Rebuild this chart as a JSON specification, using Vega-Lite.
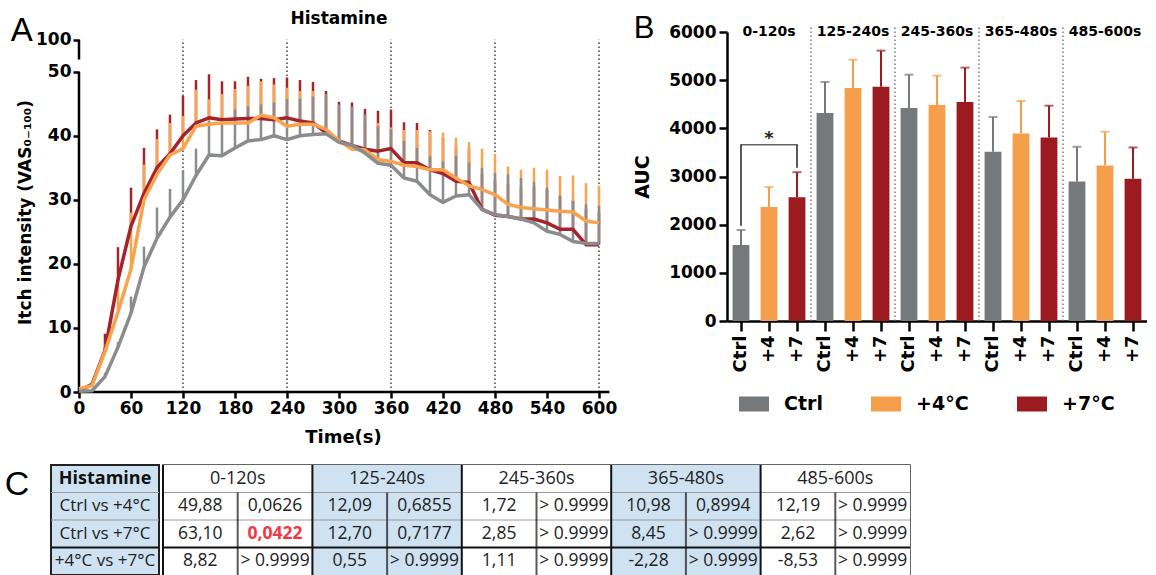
{
  "$schema": "https://vega.github.io/schema/vega-lite/v6.json",
  "padding": {"left": 3, "top": 10, "right": 0, "bottom": 0},
  "background": "white",
  "config": {"view": {"stroke": null}, "font": "DejaVu Sans"},
  "datasets": {
    "itch": [
      {"t":0,"cond":"+7°C","mean":0.2,"upper":0.2},{"t":0,"cond":"+4°C","mean":0.5,"upper":0.5},{"t":0,"cond":"Ctrl","mean":0.1,"upper":0.1},
      {"t":15,"cond":"+7°C","mean":1.2,"upper":1.5},{"t":15,"cond":"+4°C","mean":1.0,"upper":1.3},{"t":15,"cond":"Ctrl","mean":0.2,"upper":0.3},
      {"t":30,"cond":"+7°C","mean":6.5,"upper":9.1},{"t":30,"cond":"+4°C","mean":6.3,"upper":7.5},{"t":30,"cond":"Ctrl","mean":2.4,"upper":3.0},
      {"t":45,"cond":"+7°C","mean":17.5,"upper":22.6},{"t":45,"cond":"+4°C","mean":12.5,"upper":18.0},{"t":45,"cond":"Ctrl","mean":7.0,"upper":7.8},
      {"t":60,"cond":"+7°C","mean":25.9,"upper":31.9},{"t":60,"cond":"+4°C","mean":19.2,"upper":28.0},{"t":60,"cond":"Ctrl","mean":12.3,"upper":14.9},
      {"t":75,"cond":"+7°C","mean":31.0,"upper":38.1},{"t":75,"cond":"+4°C","mean":30.0,"upper":35.5},{"t":75,"cond":"Ctrl","mean":19.5,"upper":22.7},
      {"t":90,"cond":"+7°C","mean":35.0,"upper":41.0},{"t":90,"cond":"+4°C","mean":34.0,"upper":39.5},{"t":90,"cond":"Ctrl","mean":24.0,"upper":28.8},
      {"t":105,"cond":"+7°C","mean":37.2,"upper":43.3},{"t":105,"cond":"+4°C","mean":37.0,"upper":42.0},{"t":105,"cond":"Ctrl","mean":27.3,"upper":31.7},
      {"t":120,"cond":"+7°C","mean":40.0,"upper":46.2},{"t":120,"cond":"+4°C","mean":38.0,"upper":43.1},{"t":120,"cond":"Ctrl","mean":30.0,"upper":34.6},
      {"t":135,"cond":"+7°C","mean":42.0,"upper":48.7},{"t":135,"cond":"+4°C","mean":41.5,"upper":47.2},{"t":135,"cond":"Ctrl","mean":33.8,"upper":38.0},
      {"t":150,"cond":"+7°C","mean":42.8,"upper":49.6},{"t":150,"cond":"+4°C","mean":41.8,"upper":45.7},{"t":150,"cond":"Ctrl","mean":37.0,"upper":42.3},
      {"t":165,"cond":"+7°C","mean":42.5,"upper":48.5},{"t":165,"cond":"+4°C","mean":42.0,"upper":46.5},{"t":165,"cond":"Ctrl","mean":36.9,"upper":42.5},
      {"t":180,"cond":"+7°C","mean":42.6,"upper":48.5},{"t":180,"cond":"+4°C","mean":42.0,"upper":47.3},{"t":180,"cond":"Ctrl","mean":38.1,"upper":44.1},
      {"t":195,"cond":"+7°C","mean":42.7,"upper":49.2},{"t":195,"cond":"+4°C","mean":42.0,"upper":47.8},{"t":195,"cond":"Ctrl","mean":39.2,"upper":44.6},
      {"t":210,"cond":"+7°C","mean":42.7,"upper":48.9},{"t":210,"cond":"+4°C","mean":43.2,"upper":48.5},{"t":210,"cond":"Ctrl","mean":39.4,"upper":44.9},
      {"t":225,"cond":"+7°C","mean":42.5,"upper":49.0},{"t":225,"cond":"+4°C","mean":42.8,"upper":48.0},{"t":225,"cond":"Ctrl","mean":40.0,"upper":45.2},
      {"t":240,"cond":"+7°C","mean":42.8,"upper":49.1},{"t":240,"cond":"+4°C","mean":41.5,"upper":47.5},{"t":240,"cond":"Ctrl","mean":39.4,"upper":45.7},
      {"t":255,"cond":"+7°C","mean":42.3,"upper":48.7},{"t":255,"cond":"+4°C","mean":41.8,"upper":47.0},{"t":255,"cond":"Ctrl","mean":40.0,"upper":45.8},
      {"t":270,"cond":"+7°C","mean":42.0,"upper":48.4},{"t":270,"cond":"+4°C","mean":41.8,"upper":47.0},{"t":270,"cond":"Ctrl","mean":40.2,"upper":46.1},
      {"t":285,"cond":"+7°C","mean":40.5,"upper":47.0},{"t":285,"cond":"+4°C","mean":41.0,"upper":46.0},{"t":285,"cond":"Ctrl","mean":40.3,"upper":46.5},
      {"t":300,"cond":"+7°C","mean":39.2,"upper":45.3},{"t":300,"cond":"+4°C","mean":39.2,"upper":44.5},{"t":300,"cond":"Ctrl","mean":39.0,"upper":44.9},
      {"t":315,"cond":"+7°C","mean":38.5,"upper":45.2},{"t":315,"cond":"+4°C","mean":37.9,"upper":44.0},{"t":315,"cond":"Ctrl","mean":38.5,"upper":44.6},
      {"t":330,"cond":"+7°C","mean":37.9,"upper":44.2},{"t":330,"cond":"+4°C","mean":37.8,"upper":43.0},{"t":330,"cond":"Ctrl","mean":37.3,"upper":43.3},
      {"t":345,"cond":"+7°C","mean":37.6,"upper":43.9},{"t":345,"cond":"+4°C","mean":36.3,"upper":42.0},{"t":345,"cond":"Ctrl","mean":35.7,"upper":41.5},
      {"t":360,"cond":"+7°C","mean":38.0,"upper":44.1},{"t":360,"cond":"+4°C","mean":36.0,"upper":41.3},{"t":360,"cond":"Ctrl","mean":35.4,"upper":41.0},
      {"t":375,"cond":"+7°C","mean":35.8,"upper":42.1},{"t":375,"cond":"+4°C","mean":35.4,"upper":40.9},{"t":375,"cond":"Ctrl","mean":33.4,"upper":39.2},
      {"t":390,"cond":"+7°C","mean":35.8,"upper":42.0},{"t":390,"cond":"+4°C","mean":35.2,"upper":40.9},{"t":390,"cond":"Ctrl","mean":32.9,"upper":38.1},
      {"t":405,"cond":"+7°C","mean":34.7,"upper":40.9},{"t":405,"cond":"+4°C","mean":34.7,"upper":40.7},{"t":405,"cond":"Ctrl","mean":30.8,"upper":36.8},
      {"t":420,"cond":"+7°C","mean":34.1,"upper":39.8},{"t":420,"cond":"+4°C","mean":34.7,"upper":40.5},{"t":420,"cond":"Ctrl","mean":29.6,"upper":36.0},
      {"t":435,"cond":"+7°C","mean":32.9,"upper":38.5},{"t":435,"cond":"+4°C","mean":33.4,"upper":39.7},{"t":435,"cond":"Ctrl","mean":30.6,"upper":36.9},
      {"t":450,"cond":"+7°C","mean":32.7,"upper":38.0},{"t":450,"cond":"+4°C","mean":32.2,"upper":39.0},{"t":450,"cond":"Ctrl","mean":30.8,"upper":35.8},
      {"t":465,"cond":"+7°C","mean":28.5,"upper":34.0},{"t":465,"cond":"+4°C","mean":31.6,"upper":38.0},{"t":465,"cond":"Ctrl","mean":28.5,"upper":35.0},
      {"t":480,"cond":"+7°C","mean":27.6,"upper":33.0},{"t":480,"cond":"+4°C","mean":30.8,"upper":37.1},{"t":480,"cond":"Ctrl","mean":27.7,"upper":34.2},
      {"t":495,"cond":"+7°C","mean":27.4,"upper":32.5},{"t":495,"cond":"+4°C","mean":29.3,"upper":35.2},{"t":495,"cond":"Ctrl","mean":27.4,"upper":34.0},
      {"t":510,"cond":"+7°C","mean":27.0,"upper":32.0},{"t":510,"cond":"+4°C","mean":28.8,"upper":34.7},{"t":510,"cond":"Ctrl","mean":27.0,"upper":33.4},
      {"t":525,"cond":"+7°C","mean":27.0,"upper":32.0},{"t":525,"cond":"+4°C","mean":28.6,"upper":35.0},{"t":525,"cond":"Ctrl","mean":26.4,"upper":32.8},
      {"t":540,"cond":"+7°C","mean":26.4,"upper":31.5},{"t":540,"cond":"+4°C","mean":28.4,"upper":34.7},{"t":540,"cond":"Ctrl","mean":25.1,"upper":31.9},
      {"t":555,"cond":"+7°C","mean":25.4,"upper":30.5},{"t":555,"cond":"+4°C","mean":28.2,"upper":33.7},{"t":555,"cond":"Ctrl","mean":24.6,"upper":30.7},
      {"t":570,"cond":"+7°C","mean":25.4,"upper":30.0},{"t":570,"cond":"+4°C","mean":28.1,"upper":33.8},{"t":570,"cond":"Ctrl","mean":23.5,"upper":29.8},
      {"t":585,"cond":"+7°C","mean":23.0,"upper":28.5},{"t":585,"cond":"+4°C","mean":26.7,"upper":32.6},{"t":585,"cond":"Ctrl","mean":23.2,"upper":29.3},
      {"t":600,"cond":"+7°C","mean":23.0,"upper":28.0},{"t":600,"cond":"+4°C","mean":26.4,"upper":32.2},{"t":600,"cond":"Ctrl","mean":23.2,"upper":29.1}
    ],
    "bounds": [{"t":120},{"t":240},{"t":360},{"t":480},{"t":600}],
    "auc": [
      {"key":"0-120s|Ctrl","period":"0-120s","cond":"Ctrl","auc":1580,"top":1890},
      {"key":"0-120s|+4","period":"0-120s","cond":"+4°C","auc":2365,"top":2780},
      {"key":"0-120s|+7","period":"0-120s","cond":"+7°C","auc":2570,"top":3090},
      {"key":"125-240s|Ctrl","period":"125-240s","cond":"Ctrl","auc":4318,"top":4962},
      {"key":"125-240s|+4","period":"125-240s","cond":"+4°C","auc":4838,"top":5426},
      {"key":"125-240s|+7","period":"125-240s","cond":"+7°C","auc":4865,"top":5613},
      {"key":"245-360s|Ctrl","period":"245-360s","cond":"Ctrl","auc":4422,"top":5114},
      {"key":"245-360s|+4","period":"245-360s","cond":"+4°C","auc":4484,"top":5094},
      {"key":"245-360s|+7","period":"245-360s","cond":"+7°C","auc":4547,"top":5260},
      {"key":"365-480s|Ctrl","period":"365-480s","cond":"Ctrl","auc":3513,"top":4235},
      {"key":"365-480s|+4","period":"365-480s","cond":"+4°C","auc":3894,"top":4567},
      {"key":"365-480s|+7","period":"365-480s","cond":"+7°C","auc":3811,"top":4470},
      {"key":"485-600s|Ctrl","period":"485-600s","cond":"Ctrl","auc":2896,"top":3617},
      {"key":"485-600s|+4","period":"485-600s","cond":"+4°C","auc":3229,"top":3929},
      {"key":"485-600s|+7","period":"485-600s","cond":"+7°C","auc":2952,"top":3603}
    ],
    "periods": [
      {"period":"0-120s","first":"0-120s|Ctrl","mid":"0-120s|+4"},
      {"period":"125-240s","first":"125-240s|Ctrl","mid":"125-240s|+4"},
      {"period":"245-360s","first":"245-360s|Ctrl","mid":"245-360s|+4"},
      {"period":"365-480s","first":"365-480s|Ctrl","mid":"365-480s|+4"},
      {"period":"485-600s","first":"485-600s|Ctrl","mid":"485-600s|+4"}
    ],
    "bracket": [
      {"key":"0-120s|Ctrl","y":1980,"y2":3660},
      {"key":"0-120s|+7","y":3180,"y2":3660}
    ],
    "bracketTop": [{"key":"0-120s|+4","y":3660,"star":"*"}],
    "panelB": [{"key":"0-120s|Ctrl","letter":"B"}],
    "rowlabels": [
      {"row":"h","txt":"Histamine"},
      {"row":"r1","txt":"Ctrl vs +4°C"},
      {"row":"r2","txt":"Ctrl vs +7°C"},
      {"row":"r3","txt":"+4°C vs +7°C"}
    ],
    "heads": [
      {"period":"0-120s","col":"0-120s d","row":"h"},
      {"period":"125-240s","col":"125-240s d","row":"h"},
      {"period":"245-360s","col":"245-360s d","row":"h"},
      {"period":"365-480s","col":"365-480s d","row":"h"},
      {"period":"485-600s","col":"485-600s d","row":"h"}
    ],
    "cells": [
      {"period":"0-120s","col":"0-120s d","row":"r1","txt":"49,88"},
      {"period":"0-120s","col":"0-120s p","row":"r1","txt":"0,0626"},
      {"period":"125-240s","col":"125-240s d","row":"r1","txt":"12,09"},
      {"period":"125-240s","col":"125-240s p","row":"r1","txt":"0,6855"},
      {"period":"245-360s","col":"245-360s d","row":"r1","txt":"1,72"},
      {"period":"245-360s","col":"245-360s p","row":"r1","txt":"> 0.9999"},
      {"period":"365-480s","col":"365-480s d","row":"r1","txt":"10,98"},
      {"period":"365-480s","col":"365-480s p","row":"r1","txt":"0,8994"},
      {"period":"485-600s","col":"485-600s d","row":"r1","txt":"12,19"},
      {"period":"485-600s","col":"485-600s p","row":"r1","txt":"> 0.9999"},
      {"period":"0-120s","col":"0-120s d","row":"r2","txt":"63,10"},
      {"period":"0-120s","col":"0-120s p","row":"r2","txt":"0,0422"},
      {"period":"125-240s","col":"125-240s d","row":"r2","txt":"12,70"},
      {"period":"125-240s","col":"125-240s p","row":"r2","txt":"0,7177"},
      {"period":"245-360s","col":"245-360s d","row":"r2","txt":"2,85"},
      {"period":"245-360s","col":"245-360s p","row":"r2","txt":"> 0.9999"},
      {"period":"365-480s","col":"365-480s d","row":"r2","txt":"8,45"},
      {"period":"365-480s","col":"365-480s p","row":"r2","txt":"> 0.9999"},
      {"period":"485-600s","col":"485-600s d","row":"r2","txt":"2,62"},
      {"period":"485-600s","col":"485-600s p","row":"r2","txt":"> 0.9999"},
      {"period":"0-120s","col":"0-120s d","row":"r3","txt":"8,82"},
      {"period":"0-120s","col":"0-120s p","row":"r3","txt":"> 0.9999"},
      {"period":"125-240s","col":"125-240s d","row":"r3","txt":"0,55"},
      {"period":"125-240s","col":"125-240s p","row":"r3","txt":"> 0.9999"},
      {"period":"245-360s","col":"245-360s d","row":"r3","txt":"1,11"},
      {"period":"245-360s","col":"245-360s p","row":"r3","txt":"> 0.9999"},
      {"period":"365-480s","col":"365-480s d","row":"r3","txt":"-2,28"},
      {"period":"365-480s","col":"365-480s p","row":"r3","txt":"> 0.9999"},
      {"period":"485-600s","col":"485-600s d","row":"r3","txt":"-8,53"},
      {"period":"485-600s","col":"485-600s p","row":"r3","txt":"> 0.9999"}
    ]
  },
  "vconcat": [
    {
      "hconcat": [
        {
          "width": 548,
          "height": 360,
          "layer": [
            {
              "data": {"name": "bounds"},
              "mark": {"type": "rule", "strokeDash": [1.5, 2.5], "color": "#333", "strokeWidth": 1.4},
              "encoding": {
                "x": {"field": "t", "type": "quantitative"},
                "y": {"datum": 0},
                "y2": {"datum": 55}
              }
            },
            {
              "data": {"values": [{}]},
              "mark": {"type": "rule", "color": "black", "strokeWidth": 2.5},
              "encoding": {"x": {"datum": 0}, "y": {"datum": 0}, "y2": {"datum": 50}}
            },
            {
              "data": {"values": [{}]},
              "mark": {"type": "rule", "color": "black", "strokeWidth": 2.5},
              "encoding": {"x": {"datum": 0}, "y": {"datum": 51.9}, "y2": {"datum": 55}}
            },
            {
              "data": {"values": [{}]},
              "mark": {"type": "rule", "color": "black", "strokeWidth": 2.5},
              "encoding": {"x": {"datum": 0}, "x2": {"datum": 612}, "y": {"datum": 0}}
            },
            {
              "data": {"name": "itch"},
              "mark": {"type": "rule", "strokeWidth": 2.5},
              "encoding": {
                "x": {"field": "t", "type": "quantitative",
                  "scale": {"domain": [-32.3, 600], "nice": false, "zero": false},
                  "axis": {"values": [0,60,120,180,240,300,360,420,480,540,600], "labelOverlap": false, "labelFlush": false, "domain": false, "title": "Time(s)", "titleFont": "DejaVu Sans", "titleFontSize": 18, "titleFontWeight": "bold", "titleColor": "black", "titlePadding": 12, "titleX": 292, "labelFont": "DejaVu Sans", "labelFontSize": 17, "labelFontWeight": "bold", "labelColor": "black", "tickColor": "black", "tickWidth": 2.5, "tickSize": 6, "grid": false, "labelPadding": 2}},
                "y": {"field": "mean", "type": "quantitative",
                  "scale": {"domain": [0, 56.2], "nice": false},
                  "axis": {"values": [0,5,10,15,20,25,30,35,40,45,50,51.9,55], "offset": -28, "labelOverlap": false, "labelFlush": false, "labelExpr": "datum.value == 55 ? '100' : (datum.value > 50 ? '' : datum.label)", "title": "Itch intensity (VAS₀₋₁₀₀)", "titleFont": "DejaVu Sans", "titleFontSize": 17, "titleFontWeight": "bold", "titleColor": "black", "titlePadding": 1, "labelFont": "DejaVu Sans", "labelFontSize": 17, "labelFontWeight": "bold", "labelColor": "black", "domain": false, "tickColor": "black", "tickWidth": 2.5, "tickSize": 6, "grid": false, "labelPadding": 2}},
                "y2": {"field": "upper"},
                "color": {"field": "cond", "type": "nominal", "scale": {"domain": ["Ctrl", "+4°C", "+7°C"], "range": ["#8a8c8d", "#f8a34e", "#a5232a"]}, "legend": null}
              }
            },
            {
              "data": {"name": "itch"},
              "mark": {"type": "line", "strokeWidth": 3.5, "strokeJoin": "round"},
              "encoding": {
                "x": {"field": "t", "type": "quantitative"},
                "y": {"field": "mean", "type": "quantitative"},
                "color": {"field": "cond", "type": "nominal", "legend": null}
              }
            },
            {
              "data": {"values": [{}]},
              "mark": {"type": "text", "text": "A", "font": "Liberation Sans", "fontSize": 33, "color": "black", "baseline": "middle", "align": "center"},
              "encoding": {"x": {"datum": -66}, "y": {"datum": 56.3}}
            },
            {
              "data": {"values": [{}]},
              "mark": {"type": "text", "text": "Histamine", "font": "DejaVu Sans", "fontWeight": "bold", "fontSize": 17, "color": "black", "baseline": "middle", "align": "center"},
              "encoding": {"x": {"datum": 300}, "y": {"datum": 58.2}}
            }
          ]
        },
        {
          "width": 420,
          "height": 289,
          "layer": [
            {
              "data": {"name": "periods"},
              "transform": [{"filter": "datum.period != '0-120s'"}],
              "mark": {"type": "rule", "strokeDash": [1.5, 2.5], "color": "#666", "strokeWidth": 1.3},
              "encoding": {
                "x": {"field": "first", "type": "nominal", "bandPosition": 0},
                "y": {"datum": 0},
                "y2": {"datum": 6130}
              }
            },
            {
              "data": {"name": "auc"},
              "mark": {"type": "bar", "width": {"band": 0.6}},
              "encoding": {
                "x": {"field": "key", "type": "nominal",
                  "scale": {"type": "band", "domain": ["0-120s|Ctrl","0-120s|+4","0-120s|+7","125-240s|Ctrl","125-240s|+4","125-240s|+7","245-360s|Ctrl","245-360s|+4","245-360s|+7","365-480s|Ctrl","365-480s|+4","365-480s|+7","485-600s|Ctrl","485-600s|+4","485-600s|+7"], "paddingInner": 0, "paddingOuter": 0},
                  "axis": {"title": null, "labelExpr": "split(datum.value, '|')[1]", "labelAngle": 270, "labelOverlap": false, "labelFont": "DejaVu Sans", "labelFontSize": 18, "labelFontWeight": "bold", "labelColor": "black", "labelPadding": 4, "domainColor": "black", "domainWidth": 2.5, "tickColor": "black", "tickWidth": 2.5, "tickSize": 10}},
                "y": {"field": "auc", "type": "quantitative", "scale": {"domain": [0, 6000], "nice": false},
                  "axis": {"values": [0,1000,2000,3000,4000,5000,6000], "format": "d", "title": "AUC", "titleFont": "DejaVu Sans", "titleFontSize": 19, "titleFontWeight": "bold", "titleColor": "black", "titlePadding": 16, "labelFont": "DejaVu Sans", "labelFontSize": 17, "labelFontWeight": "bold", "labelColor": "black", "domainColor": "black", "domainWidth": 2.5, "tickColor": "black", "tickWidth": 2.5, "tickSize": 8, "grid": false, "labelPadding": 3}},
                "color": {"field": "cond", "type": "nominal", "scale": {"domain": ["Ctrl", "+4°C", "+7°C"], "range": ["#76797b", "#f59e4c", "#9c1b21"]},
                  "legend": {"orient": "bottom", "direction": "horizontal", "title": null, "symbolType": "M-1,-0.5H1V0.5H-1Z", "symbolSize": 900, "symbolStrokeWidth": 0, "labelFont": "DejaVu Sans", "labelFontSize": 19, "labelFontWeight": "bold", "labelColor": "black", "labelOffset": 15, "columnPadding": 48, "padding": 12, "offset": 5}}
              }
            },
            {
              "data": {"name": "auc"},
              "mark": {"type": "rule", "strokeWidth": 2},
              "encoding": {
                "x": {"field": "key", "type": "nominal"},
                "y": {"field": "auc", "type": "quantitative"},
                "y2": {"field": "top"},
                "color": {"field": "cond", "type": "nominal", "legend": null}
              }
            },
            {
              "data": {"name": "auc"},
              "mark": {"type": "tick", "thickness": 2, "size": 9, "orient": "horizontal"},
              "encoding": {
                "x": {"field": "key", "type": "nominal"},
                "y": {"field": "top", "type": "quantitative"},
                "color": {"field": "cond", "type": "nominal", "legend": null}
              }
            },
            {
              "data": {"name": "periods"},
              "mark": {"type": "text", "baseline": "middle", "align": "center", "font": "DejaVu Sans", "fontWeight": "bold", "fontSize": 14, "color": "black"},
              "encoding": {
                "x": {"field": "mid", "type": "nominal"},
                "y": {"datum": 6000},
                "text": {"field": "period"}
              }
            },
            {
              "data": {"name": "bracket"},
              "mark": {"type": "rule", "strokeWidth": 1.5, "color": "#222"},
              "encoding": {
                "x": {"field": "key", "type": "nominal"},
                "y": {"field": "y", "type": "quantitative"},
                "y2": {"field": "y2"}
              }
            },
            {
              "data": {"name": "bracketTop"},
              "mark": {"type": "tick", "thickness": 1.5, "size": 57.5, "orient": "horizontal", "color": "#222"},
              "encoding": {
                "x": {"field": "key", "type": "nominal"},
                "y": {"field": "y", "type": "quantitative"}
              }
            },
            {
              "data": {"name": "bracketTop"},
              "mark": {"type": "text", "baseline": "bottom", "align": "center", "font": "DejaVu Sans", "fontWeight": "bold", "fontSize": 18, "color": "#222", "dy": 3},
              "encoding": {
                "x": {"field": "key", "type": "nominal"},
                "y": {"field": "y", "type": "quantitative"},
                "text": {"field": "star"}
              }
            },
            {
              "data": {"name": "panelB"},
              "mark": {"type": "text", "font": "Liberation Sans", "fontSize": 31, "color": "black", "baseline": "middle", "align": "center", "dx": -97},
              "encoding": {
                "x": {"field": "key", "type": "nominal"},
                "y": {"datum": 6070},
                "text": {"field": "letter"}
              }
            }
          ]
        }
      ],
      "spacing": 16,
      "resolve": {"scale": {"color": "independent"}, "legend": {"color": "independent"}}
    },
    {
      "hconcat": [
        {
          "width": 108,
          "height": 110,
          "view": {"fill": "#cfe2f1", "stroke": "#222", "strokeWidth": 2},
          "data": {"name": "rowlabels"},
          "layer": [
            {
              "transform": [{"filter": "datum.row == 'r1' || datum.row == 'r2'"}],
              "mark": {"type": "rule", "color": "#9a9a9a", "strokeWidth": 1},
              "encoding": {"y": {"field": "row", "type": "nominal", "bandPosition": 0, "scale": {"type": "band", "domain": ["h", "r1", "r2", "r3"], "paddingInner": 0, "paddingOuter": 0}, "axis": null}}
            },
            {
              "transform": [{"filter": "datum.row == 'r3'"}],
              "mark": {"type": "rule", "color": "#111", "strokeWidth": 2},
              "encoding": {"y": {"field": "row", "type": "nominal", "bandPosition": 0, "axis": null}}
            },
            {
              "transform": [{"filter": "datum.row == 'h'"}],
              "mark": {"type": "text", "font": "Open Sans", "fontSize": 18, "fontWeight": "bold", "color": "#111", "baseline": "middle", "align": "center"},
              "encoding": {"y": {"field": "row", "type": "nominal", "axis": null}, "text": {"field": "txt"}}
            },
            {
              "transform": [{"filter": "datum.row == 'h'"}],
              "mark": {"type": "text", "text": "C", "font": "Liberation Sans", "fontSize": 34, "color": "black", "baseline": "middle", "align": "center", "dx": -88, "dy": 6},
              "encoding": {"y": {"field": "row", "type": "nominal", "axis": null}}
            },
            {
              "transform": [{"filter": "datum.row != 'h'"}],
              "mark": {"type": "text", "font": "Open Sans", "fontSize": 17, "color": "#222", "baseline": "middle", "align": "center"},
              "encoding": {"y": {"field": "row", "type": "nominal", "axis": null}, "text": {"field": "txt"}}
            }
          ]
        },
        {
          "width": 747,
          "height": 110,
          "view": {"stroke": "#333", "strokeWidth": 1.5},
          "layer": [
            {
              "data": {"name": "cells"},
              "transform": [{"filter": "datum.row == 'r1'"}],
              "mark": {"type": "rect"},
              "encoding": {
                "x": {"field": "col", "type": "nominal", "scale": {"type": "band", "domain": ["0-120s d","0-120s p","125-240s d","125-240s p","245-360s d","245-360s p","365-480s d","365-480s p","485-600s d","485-600s p"], "paddingInner": 0, "paddingOuter": 0}, "axis": null},
                "fill": {"field": "period", "type": "nominal", "scale": {"domain": ["0-120s","125-240s","245-360s","365-480s","485-600s"], "range": ["#ffffff","#cfe2f1","#ffffff","#cfe2f1","#ffffff"]}, "legend": null}
              }
            },
            {
              "data": {"name": "rowlabels"},
              "transform": [{"filter": "datum.row == 'r1' || datum.row == 'r2'"}],
              "mark": {"type": "rule", "color": "#9a9a9a", "strokeWidth": 1},
              "encoding": {"y": {"field": "row", "type": "nominal", "bandPosition": 0, "scale": {"type": "band", "domain": ["h", "r1", "r2", "r3"], "paddingInner": 0, "paddingOuter": 0}, "axis": null}}
            },
            {
              "data": {"name": "rowlabels"},
              "transform": [{"filter": "datum.row == 'r3'"}],
              "mark": {"type": "rule", "color": "#111", "strokeWidth": 2},
              "encoding": {"y": {"field": "row", "type": "nominal", "bandPosition": 0, "axis": null}}
            },
            {
              "data": {"name": "heads"},
              "mark": {"type": "rule", "color": "#111", "strokeWidth": 2},
              "encoding": {"x": {"field": "col", "type": "nominal", "bandPosition": 0, "axis": null}}
            },
            {
              "data": {"name": "cells"},
              "transform": [{"filter": "indexof(datum.col, ' p') > 0"}],
              "mark": {"type": "tick", "orient": "vertical", "color": "#111", "thickness": 2, "size": 27.5},
              "encoding": {
                "x": {"field": "col", "type": "nominal", "bandPosition": 0, "axis": null},
                "y": {"field": "row", "type": "nominal", "axis": null}
              }
            },
            {
              "data": {"name": "cells"},
              "transform": [{"filter": "datum.txt != '0,0422'"}],
              "mark": {"type": "text", "font": "Open Sans", "fontSize": 17.5, "color": "#222", "baseline": "middle", "align": "center"},
              "encoding": {
                "x": {"field": "col", "type": "nominal", "axis": null},
                "y": {"field": "row", "type": "nominal", "axis": null},
                "text": {"field": "txt"}
              }
            },
            {
              "data": {"name": "cells"},
              "transform": [{"filter": "datum.txt == '0,0422'"}],
              "mark": {"type": "text", "font": "Open Sans", "fontSize": 17.5, "fontWeight": "bold", "color": "#ee3b3f", "baseline": "middle", "align": "center"},
              "encoding": {
                "x": {"field": "col", "type": "nominal", "axis": null},
                "y": {"field": "row", "type": "nominal", "axis": null},
                "text": {"field": "txt"}
              }
            },
            {
              "data": {"name": "heads"},
              "mark": {"type": "text", "font": "Open Sans", "fontSize": 18, "color": "#222", "baseline": "middle", "align": "center"},
              "encoding": {
                "x": {"field": "col", "type": "nominal", "bandPosition": 1, "axis": null},
                "y": {"field": "row", "type": "nominal", "axis": null},
                "text": {"field": "period"}
              }
            }
          ]
        }
      ],
      "spacing": 0
    }
  ],
  "spacing": 17
}
